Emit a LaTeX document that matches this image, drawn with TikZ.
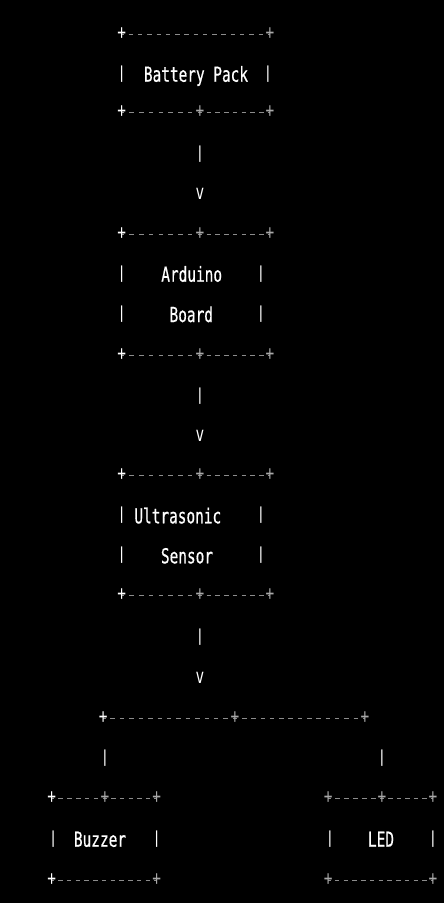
\documentclass[tikz,border=0pt]{standalone}
\usepackage{fontspec}
\newfontfamily\asciifont{DejaVu Sans Mono}
\newfontfamily\labelfont[FakeBold=0.6]{DejaVu Sans Mono}
\newcommand\sq[1]{\scalebox{0.7}[1]{#1}}
\newcommand\sqbar{\scalebox{0.7}[0.8]{|}}
\definecolor{plusgray}{HTML}{A8A8A8}
\definecolor{dashgray}{HTML}{8C8C8C}
\pgfdeclarelayer{bg}
\pgfsetlayers{bg,main}
\tikzset{
  asciifnt/.style={font=\asciifont\fontsize{20.6}{24}\selectfont, inner sep=0pt},
  boxtext/.style={font=\labelfont\fontsize{20.6}{24}\selectfont, inner sep=0pt, text=white, anchor=base},
  plusg/.style={asciifnt, text=plusgray},
  plusw/.style={asciifnt, text=white},
  wallg/.style={asciifnt, text=white},
  vtip/.style={asciifnt, text=white},
  dashrun/.style={draw=dashgray, line width=1pt, dash pattern={on 4.5pt off #1pt}, dash phase=2.25pt},
}
\begin{document}
\begin{tikzpicture}[x=1pt,y=-1pt]
\begin{pgfonlayer}{bg}
\fill[black] (0,0) rectangle (444,903);
\end{pgfonlayer}
\useasboundingbox (0,0) rectangle (444,903);

% ---------- Battery Pack ----------
\node[plusw] (btl) at (121.7,34) {\sq{+}};
\node[plusg] (btr) at (270,34) {\sq{+}};
\node[wallg] (bwl) at (121.7,74.5) {\sqbar};
\node[wallg] (bwr) at (268,74.5) {\sqbar};
\node[boxtext] (bat) at (196,81.7) {\sq{Battery Pack}};
\node[plusw] (bbl) at (121.7,112) {\sq{+}};
\node[plusg] (bbm) at (200,112) {\sq{+}};
\node[plusg] (bbr) at (270,112) {\sq{+}};

% ---------- arrow 1 ----------
\node[wallg] (a1bar) at (200,154) {\sqbar};
\node[vtip] (a1v) at (200,194) {\sq{v}};

% ---------- Arduino Board ----------
\node[plusw] (atl) at (121.7,234) {\sq{+}};
\node[plusg] (atm) at (200,234) {\sq{+}};
\node[plusg] (atr) at (270,234) {\sq{+}};
\node[wallg] (awl1) at (121.7,274.5) {\sqbar};
\node[wallg] (awr1) at (261,274.5) {\sqbar};
\node[boxtext] (ard1) at (191.7,281.7) {\sq{Arduino}};
\node[wallg] (awl2) at (121.7,314.5) {\sqbar};
\node[wallg] (awr2) at (261,314.5) {\sqbar};
\node[boxtext] (ard2) at (191.3,322) {\sq{Board}};
\node[plusw] (abl) at (121.7,355) {\sq{+}};
\node[plusg] (abm) at (200,355) {\sq{+}};
\node[plusg] (abr) at (270,355) {\sq{+}};

% ---------- arrow 2 ----------
\node[wallg] (a2bar) at (200,396) {\sqbar};
\node[vtip] (a2v) at (200,436) {\sq{v}};

% ---------- Ultrasonic Sensor ----------
\node[plusw] (utl) at (121.7,475) {\sq{+}};
\node[plusg] (utm) at (200,475) {\sq{+}};
\node[plusg] (utr) at (270,475) {\sq{+}};
\node[wallg] (uwl1) at (121.7,515.5) {\sqbar};
\node[wallg] (uwr1) at (261,515.5) {\sqbar};
\node[boxtext] (ult1) at (177.8,523.3) {\sq{Ultrasonic}};
\node[wallg] (uwl2) at (121.7,555.5) {\sqbar};
\node[wallg] (uwr2) at (261,555.5) {\sqbar};
\node[boxtext] (ult2) at (187,563.3) {\sq{Sensor}};
\node[plusw] (ubl) at (121.7,595) {\sq{+}};
\node[plusg] (ubm) at (200,595) {\sq{+}};
\node[plusg] (ubr) at (270,595) {\sq{+}};

% ---------- arrow 3 ----------
\node[wallg] (a3bar) at (200,637) {\sqbar};
\node[vtip] (a3v) at (200,678) {\sq{v}};

% ---------- split ----------
\node[plusw] (sl) at (103.3,718) {\sq{+}};
\node[plusg] (sm) at (235,718) {\sq{+}};
\node[plusg] (sr) at (365,718) {\sq{+}};
\node[wallg] (slbar) at (105,758) {\sqbar};
\node[wallg] (srbar) at (382,758) {\sqbar};

% ---------- Buzzer ----------
\node[plusw] (ztl) at (51.7,798) {\sq{+}};
\node[plusg] (ztm) at (105,798) {\sq{+}};
\node[plusg] (ztr) at (156.7,798) {\sq{+}};
\node[wallg] (zwl) at (53.3,839.5) {\sqbar};
\node[wallg] (zwr) at (156.7,839.5) {\sqbar};
\node[boxtext] (buz) at (100,846.7) {\sq{Buzzer}};
\node[plusw] (zbl) at (51.7,880) {\sq{+}};
\node[plusg] (zbr) at (156.7,880) {\sq{+}};

% ---------- LED ----------
\node[plusg] (ltl) at (328.3,798) {\sq{+}};
\node[plusg] (ltm) at (382,798) {\sq{+}};
\node[plusg] (ltr) at (433,798) {\sq{+}};
\node[wallg] (lwl) at (330,839.5) {\sqbar};
\node[wallg] (lwr) at (433,839.5) {\sqbar};
\node[boxtext] (led) at (381,846.7) {\sq{LED}};
\node[plusg] (lbl) at (328.3,880) {\sq{+}};
\node[plusg] (lbr) at (433,880) {\sq{+}};

% ---------- dash runs ----------
\begin{pgfonlayer}{bg}
\draw[dashrun=4.77] (btl.center) -- (btr.center);
\draw[dashrun=5.29] (bbl.center) -- (bbm.center);
\draw[dashrun=4.25] (bbm.center) -- (bbr.center);
\draw[dashrun=5.29] (atl.center) -- (atm.center);
\draw[dashrun=4.25] (atm.center) -- (atr.center);
\draw[dashrun=5.29] (abl.center) -- (abm.center);
\draw[dashrun=4.25] (abm.center) -- (abr.center);
\draw[dashrun=5.29] (utl.center) -- (utm.center);
\draw[dashrun=4.25] (utm.center) -- (utr.center);
\draw[dashrun=5.29] (ubl.center) -- (ubm.center);
\draw[dashrun=4.25] (ubm.center) -- (ubr.center);
\draw[dashrun=4.91] (sl.center) -- (sm.center);
\draw[dashrun=4.79] (sm.center) -- (sr.center);
\draw[dashrun=4.38] (ztl.center) -- (ztm.center);
\draw[dashrun=4.12] (ztm.center) -- (ztr.center);
\draw[dashrun=4.25] (zbl.center) -- (zbr.center);
\draw[dashrun=4.50] (ltl.center) -- (ltm.center);
\draw[dashrun=4.00] (ltm.center) -- (ltr.center);
\draw[dashrun=4.25] (lbl.center) -- (lbr.center);
\end{pgfonlayer}
\end{tikzpicture}
\end{document}
